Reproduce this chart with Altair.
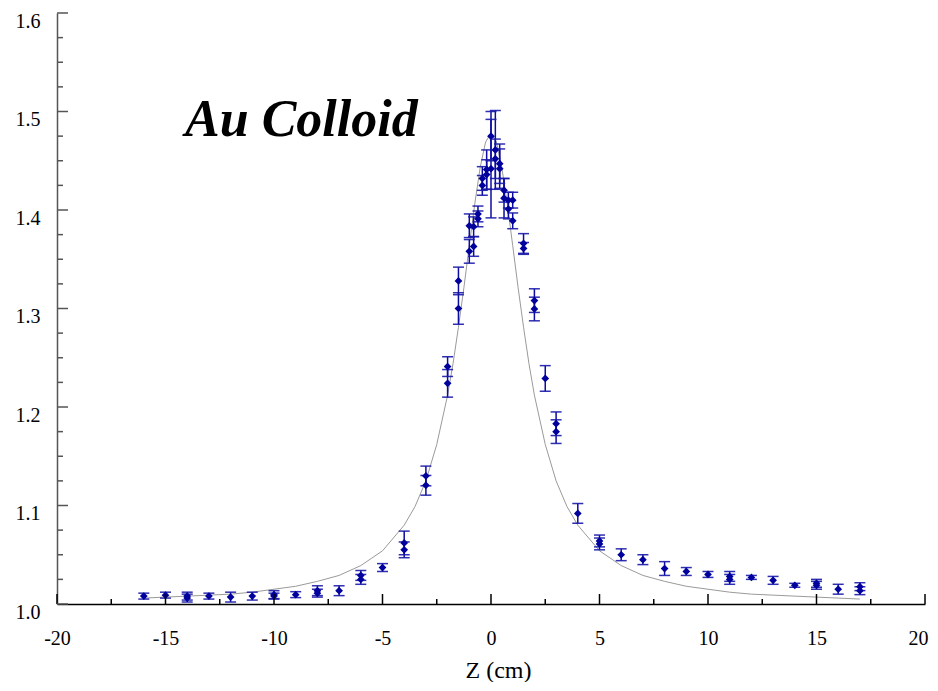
import altair as alt
import pandas as pd

# ---- measured data (Z in cm, normalized transmittance) ----
z_pts = [-16, -15, -14, -14, -13, -12, -11, -10, -10, -9, -8, -8, -7, -6, -6, -5,
         -4, -4, -3, -3, -2, -2, -1.5, -1.5, -1, -1, -0.8, -0.8, -0.6, -0.6,
         -0.4, -0.4, -0.2, -0.2, 0, 0, 0.2, 0.2, 0.4, 0.4, 0.6, 0.6, 0.8, 0.8,
         1, 1, 1.5, 1.5, 2, 2, 2.5, 3, 3, 4, 5, 5, 6, 7, 8, 9, 10, 11, 11, 12,
         13, 14, 15, 15, 16, 17, 17]
t_pts = [1.008, 1.009, 1.008, 1.006, 1.008, 1.007, 1.008, 1.0095, 1.008, 1.0095,
         1.0135, 1.011, 1.0135, 1.029, 1.025, 1.037,
         1.062, 1.055, 1.130, 1.1205, 1.241, 1.224, 1.328, 1.300, 1.384, 1.358,
         1.383, 1.363, 1.396, 1.391, 1.432, 1.425, 1.441, 1.436, 1.475, 1.442,
         1.461, 1.452, 1.447, 1.442, 1.420, 1.412, 1.410, 1.401,
         1.410, 1.389, 1.366, 1.361, 1.308, 1.2995, 1.229, 1.183, 1.175, 1.092,
         1.064, 1.061, 1.050, 1.045, 1.036, 1.033, 1.030, 1.028, 1.025, 1.027,
         1.024, 1.019, 1.021, 1.019, 1.015, 1.0176, 1.0135]
e_pts = [0.003, 0.003, 0.004, 0.004, 0.003, 0.005, 0.004, 0.004, 0.003, 0.003,
         0.005, 0.004, 0.005, 0.005, 0.005, 0.004,
         0.012, 0.008, 0.010, 0.010, 0.010, 0.014, 0.014, 0.016, 0.012, 0.012,
         0.010, 0.010, 0.008, 0.008, 0.012, 0.010, 0.020, 0.015, 0.025, 0.050,
         0.040, 0.020, 0.020, 0.020, 0.012, 0.020, 0.008, 0.010,
         0.008, 0.008, 0.010, 0.006, 0.012, 0.012, 0.013, 0.012, 0.012, 0.010,
         0.006, 0.006, 0.006, 0.005, 0.007, 0.004, 0.003, 0.005, 0.005, 0.002,
         0.004, 0.002, 0.004, 0.004, 0.005, 0.004, 0.004]

# ---- fitted curve ----
z_fit = [-16, -15, -14, -13, -12, -11, -10, -9, -8, -7, -6, -5, -4, -3.5, -3,
         -2.5, -2, -1.75, -1.5, -1.25, -1, -0.75, -0.5, -0.25, 0,
         0.25, 0.5, 0.75, 1, 1.25, 1.5, 1.75, 2, 2.5, 3, 3.5, 4,
         5, 6, 7, 8, 9, 10, 11, 12, 13, 14, 15, 16, 17]
t_fit = [1.006, 1.007, 1.008, 1.009, 1.010, 1.012, 1.015, 1.018, 1.023, 1.029,
         1.039, 1.054, 1.080, 1.099, 1.125, 1.162, 1.212, 1.244, 1.281, 1.321,
         1.364, 1.406, 1.443, 1.469, 1.478,
         1.469, 1.443, 1.406, 1.364, 1.321, 1.281, 1.244, 1.212, 1.162, 1.125,
         1.099, 1.080, 1.054, 1.039, 1.029, 1.023, 1.018, 1.015, 1.012, 1.010,
         1.009, 1.008, 1.007, 1.006, 1.005]

# ---- axis ticks ----
x_major = [-20, -15, -10, -5, 0, 5, 10, 15, 20]
x_minor = [-17.5, -12.5, -7.5, -2.5, 2.5, 7.5, 12.5, 17.5]
y_major = [1.0, 1.1, 1.2, 1.3, 1.4, 1.5, 1.6]
y_minor = [1.025, 1.05, 1.075, 1.125, 1.15, 1.175, 1.225, 1.25, 1.275,
           1.325, 1.35, 1.375, 1.425, 1.45, 1.475, 1.525, 1.55, 1.575]

label_text = ["Au Colloid"]
label_z = [-14.1]
label_t = [1.475]

pts = pd.DataFrame({"z": z_pts, "t": t_pts, "e": e_pts})
fit = pd.DataFrame({"z": z_fit, "t": t_fit})
lab = pd.DataFrame({"z": label_z, "t": label_t, "txt": label_text})

FONT = "Liberation Serif"
xs = alt.Scale(domain=[-20, 20], nice=False, zero=False)
ys = alt.Scale(domain=[1.0, 1.6], nice=False, zero=False)

xax = alt.Axis(values=x_major, ticks=False, grid=False, domainColor="#000000",
               domainWidth=1.5, labelFont=FONT, labelFontSize=20,
               labelColor="#000000", labelPadding=24, labelFlush=False,
               labelOverlap=False, labelExpr="toString(datum.value)",
               labelOffset={"condition": {"test": "datum.value == 20", "value": -7},
                            "value": 0},
               title="Z (cm)", titleFont=FONT, titleFontSize=24,
               titleFontWeight="normal", titleColor="#000000",
               titleX=441, titleY=73, titleBaseline="alphabetic",
               titleAlign="center", titleAnchor="start")
yax = alt.Axis(values=y_major, format=".1f", ticks=False, grid=False,
               domainColor="#555555", domainWidth=1.5, labelFont=FONT,
               labelFontSize=20, labelColor="#000000", labelPadding=17,
               labelOffset=8, labelFlush=False, labelOverlap=False, title=None)

X = alt.X("z:Q", scale=xs, axis=xax)
Y = alt.Y("t:Q", scale=ys, axis=yax)

curve = alt.Chart(fit).mark_line(color="#9a9a9a", strokeWidth=1).encode(x=X, y=Y)

base = alt.Chart(pts).transform_calculate(lo="datum.t - datum.e", hi="datum.t + datum.e")
bars = base.mark_rule(color="#0c0ca0", strokeWidth=1.5).encode(
    x=X, y=alt.Y("lo:Q", scale=ys, axis=yax), y2="hi:Q")
cap_lo = base.mark_tick(color="#1818a8", orient="horizontal", size=11, thickness=1.5,
                        opacity=0.9).encode(x=X, y=alt.Y("lo:Q", scale=ys, axis=yax))
cap_hi = base.mark_tick(color="#1818a8", orient="horizontal", size=11, thickness=1.5,
                        opacity=0.9).encode(x=X, y=alt.Y("hi:Q", scale=ys, axis=yax))
points = alt.Chart(pts).mark_point(shape="diamond", filled=True, size=60,
                                   color="#00009c", opacity=1).encode(x=X, y=Y)

title_txt = alt.Chart(lab).mark_text(font=FONT, fontSize=52, fontStyle="italic",
                                     fontWeight="bold", align="left",
                                     baseline="alphabetic", color="#000000").encode(
    x=X, y=Y, text="txt:N")

xmaj = pd.DataFrame({"v": x_major})
xmin = pd.DataFrame({"v": x_minor})
ymaj = pd.DataFrame({"v": y_major})
ymin = pd.DataFrame({"v": y_minor})

xt1 = alt.Chart(xmaj).mark_rule(color="#000000", strokeWidth=1.5).encode(
    x=alt.X("v:Q", scale=xs, axis=xax), y=alt.value(591), y2=alt.value(581))
xt2 = alt.Chart(xmin).mark_rule(color="#000000", strokeWidth=1.5).encode(
    x=alt.X("v:Q", scale=xs, axis=xax), y=alt.value(591), y2=alt.value(586))
yt1 = alt.Chart(ymaj).mark_rule(color="#555555", strokeWidth=1.5).encode(
    y=alt.Y("v:Q", scale=ys, axis=yax), x=alt.value(0), x2=alt.value(11))
yt2 = alt.Chart(ymin).mark_rule(color="#555555", strokeWidth=1.5).encode(
    y=alt.Y("v:Q", scale=ys, axis=yax), x=alt.value(0), x2=alt.value(6))

chart = alt.layer(curve, bars, cap_lo, cap_hi, points, title_txt, xt1, xt2, yt1, yt2).properties(
    width=868, height=591,
    autosize=alt.AutoSizeParams(type="none"),
    padding={"left": 49, "top": 5, "right": 5, "bottom": 78},
    background="white",
).configure_view(stroke=None)

chart.save("out.html", embed_options={"renderer": "svg", "actions": False})
